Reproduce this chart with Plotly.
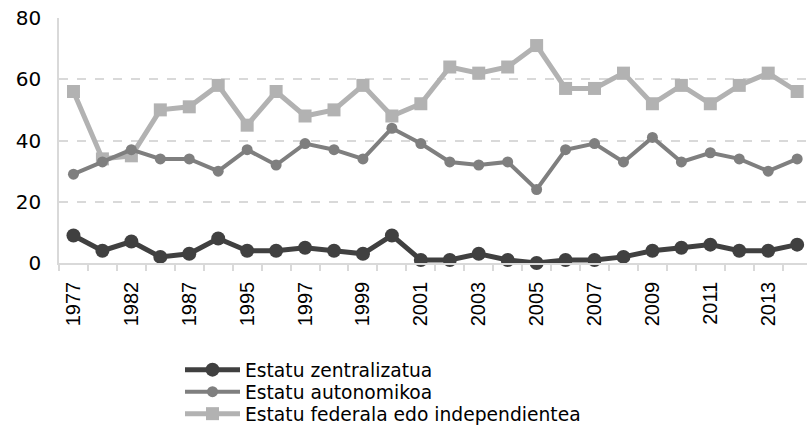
import plotly.graph_objects as go

years = ["1977", "1979", "1982", "1984", "1987", "1991", "1995", "1996", "1997", "1998",
         "1999", "2000", "2001", "2002", "2003", "2004", "2005", "2006", "2007", "2008",
         "2009", "2010", "2011", "2012", "2013", "2014"]
zentralizatua = [9, 4, 7, 2, 3, 8, 4, 4, 5, 4, 3, 9, 1, 1, 3, 1, 0, 1, 1, 2, 4, 5, 6, 4, 4, 6]
autonomikoa = [29, 33, 37, 34, 34, 30, 37, 32, 39, 37, 34, 44, 39, 33, 32, 33, 24, 37, 39, 33, 41, 33, 36, 34, 30, 34]
federala = [56, 34, 35, 50, 51, 58, 45, 56, 48, 50, 58, 48, 52, 64, 62, 64, 71, 57, 57, 62, 52, 58, 52, 58, 62, 56]
names = ["Estatu zentralizatua", "Estatu autonomikoa", "Estatu federala edo independientea"]
ytick_vals = [0, 20, 40, 60, 80]

tick_text = [y if i % 2 == 0 else "" for i, y in enumerate(years)]

fig = go.Figure()
fig.add_trace(go.Scatter(x=years, y=federala, name=names[2], mode="lines+markers",
                         line=dict(color="#b2b2b2", width=5),
                         marker=dict(symbol="square", size=13, color="#b2b2b2"),
                         legend="legend3", cliponaxis=False))
fig.add_trace(go.Scatter(x=years, y=autonomikoa, name=names[1], mode="lines+markers",
                         line=dict(color="#7f7f7f", width=4),
                         marker=dict(symbol="circle", size=11, color="#7f7f7f"),
                         legend="legend2", cliponaxis=False))
fig.add_trace(go.Scatter(x=years, y=zentralizatua, name=names[0], mode="lines+markers",
                         line=dict(color="#404040", width=5),
                         marker=dict(symbol="circle", size=14, color="#404040"),
                         legend="legend", cliponaxis=False))

# figure is a bit taller than the 427px window (overflow hidden) so the
# last legend box fits without being pushed up
H = 445
W = 807
leg_common = dict(xref="container", yref="container", xanchor="left", yanchor="middle",
                  x=180 / W, bgcolor="rgba(0,0,0,0)", itemwidth=55,
                  font=dict(family="DejaVu Sans", size=18.7, color="#000000"))

fig.update_layout(
    width=W, height=H,
    margin=dict(l=59, r=0, t=18, b=H - 263, autoexpand=False),
    paper_bgcolor="white", plot_bgcolor="white",
    showlegend=True,
    legend=dict(y=1 - 370 / H, **leg_common),
    legend2=dict(y=1 - 392 / H, **leg_common),
    legend3=dict(y=1 - 414 / H, **leg_common),
    xaxis=dict(type="category", range=[-0.5, 25.34], tickmode="array",
               tickvals=years, ticktext=tick_text, tickson="boundaries",
               ticks="outside", ticklen=6, tickcolor="#d9d9d9", tickwidth=1.5,
               showline=True, linecolor="#d9d9d9", linewidth=1.5,
               showgrid=False, tickangle=-90, ticklabelstandoff=9,
               automargin=False,
               tickfont=dict(family="Liberation Sans, Arial, sans-serif", size=20,
                             color="#000000")),
    yaxis=dict(range=[0, 80], tickvals=ytick_vals, showgrid=True,
               gridcolor="#d9d9d9", griddash="dash", gridwidth=1.5,
               showline=True, linecolor="#d9d9d9", linewidth=1.5,
               zeroline=False, ticks="", ticklabelstandoff=12,
               automargin=False,
               tickfont=dict(family="DejaVu Sans", size=20, color="#000000")),
)

fig.write_html("out.html", config={"displayModeBar": False},
               post_script="document.body.style.margin='0px';document.body.style.overflow='hidden';")
